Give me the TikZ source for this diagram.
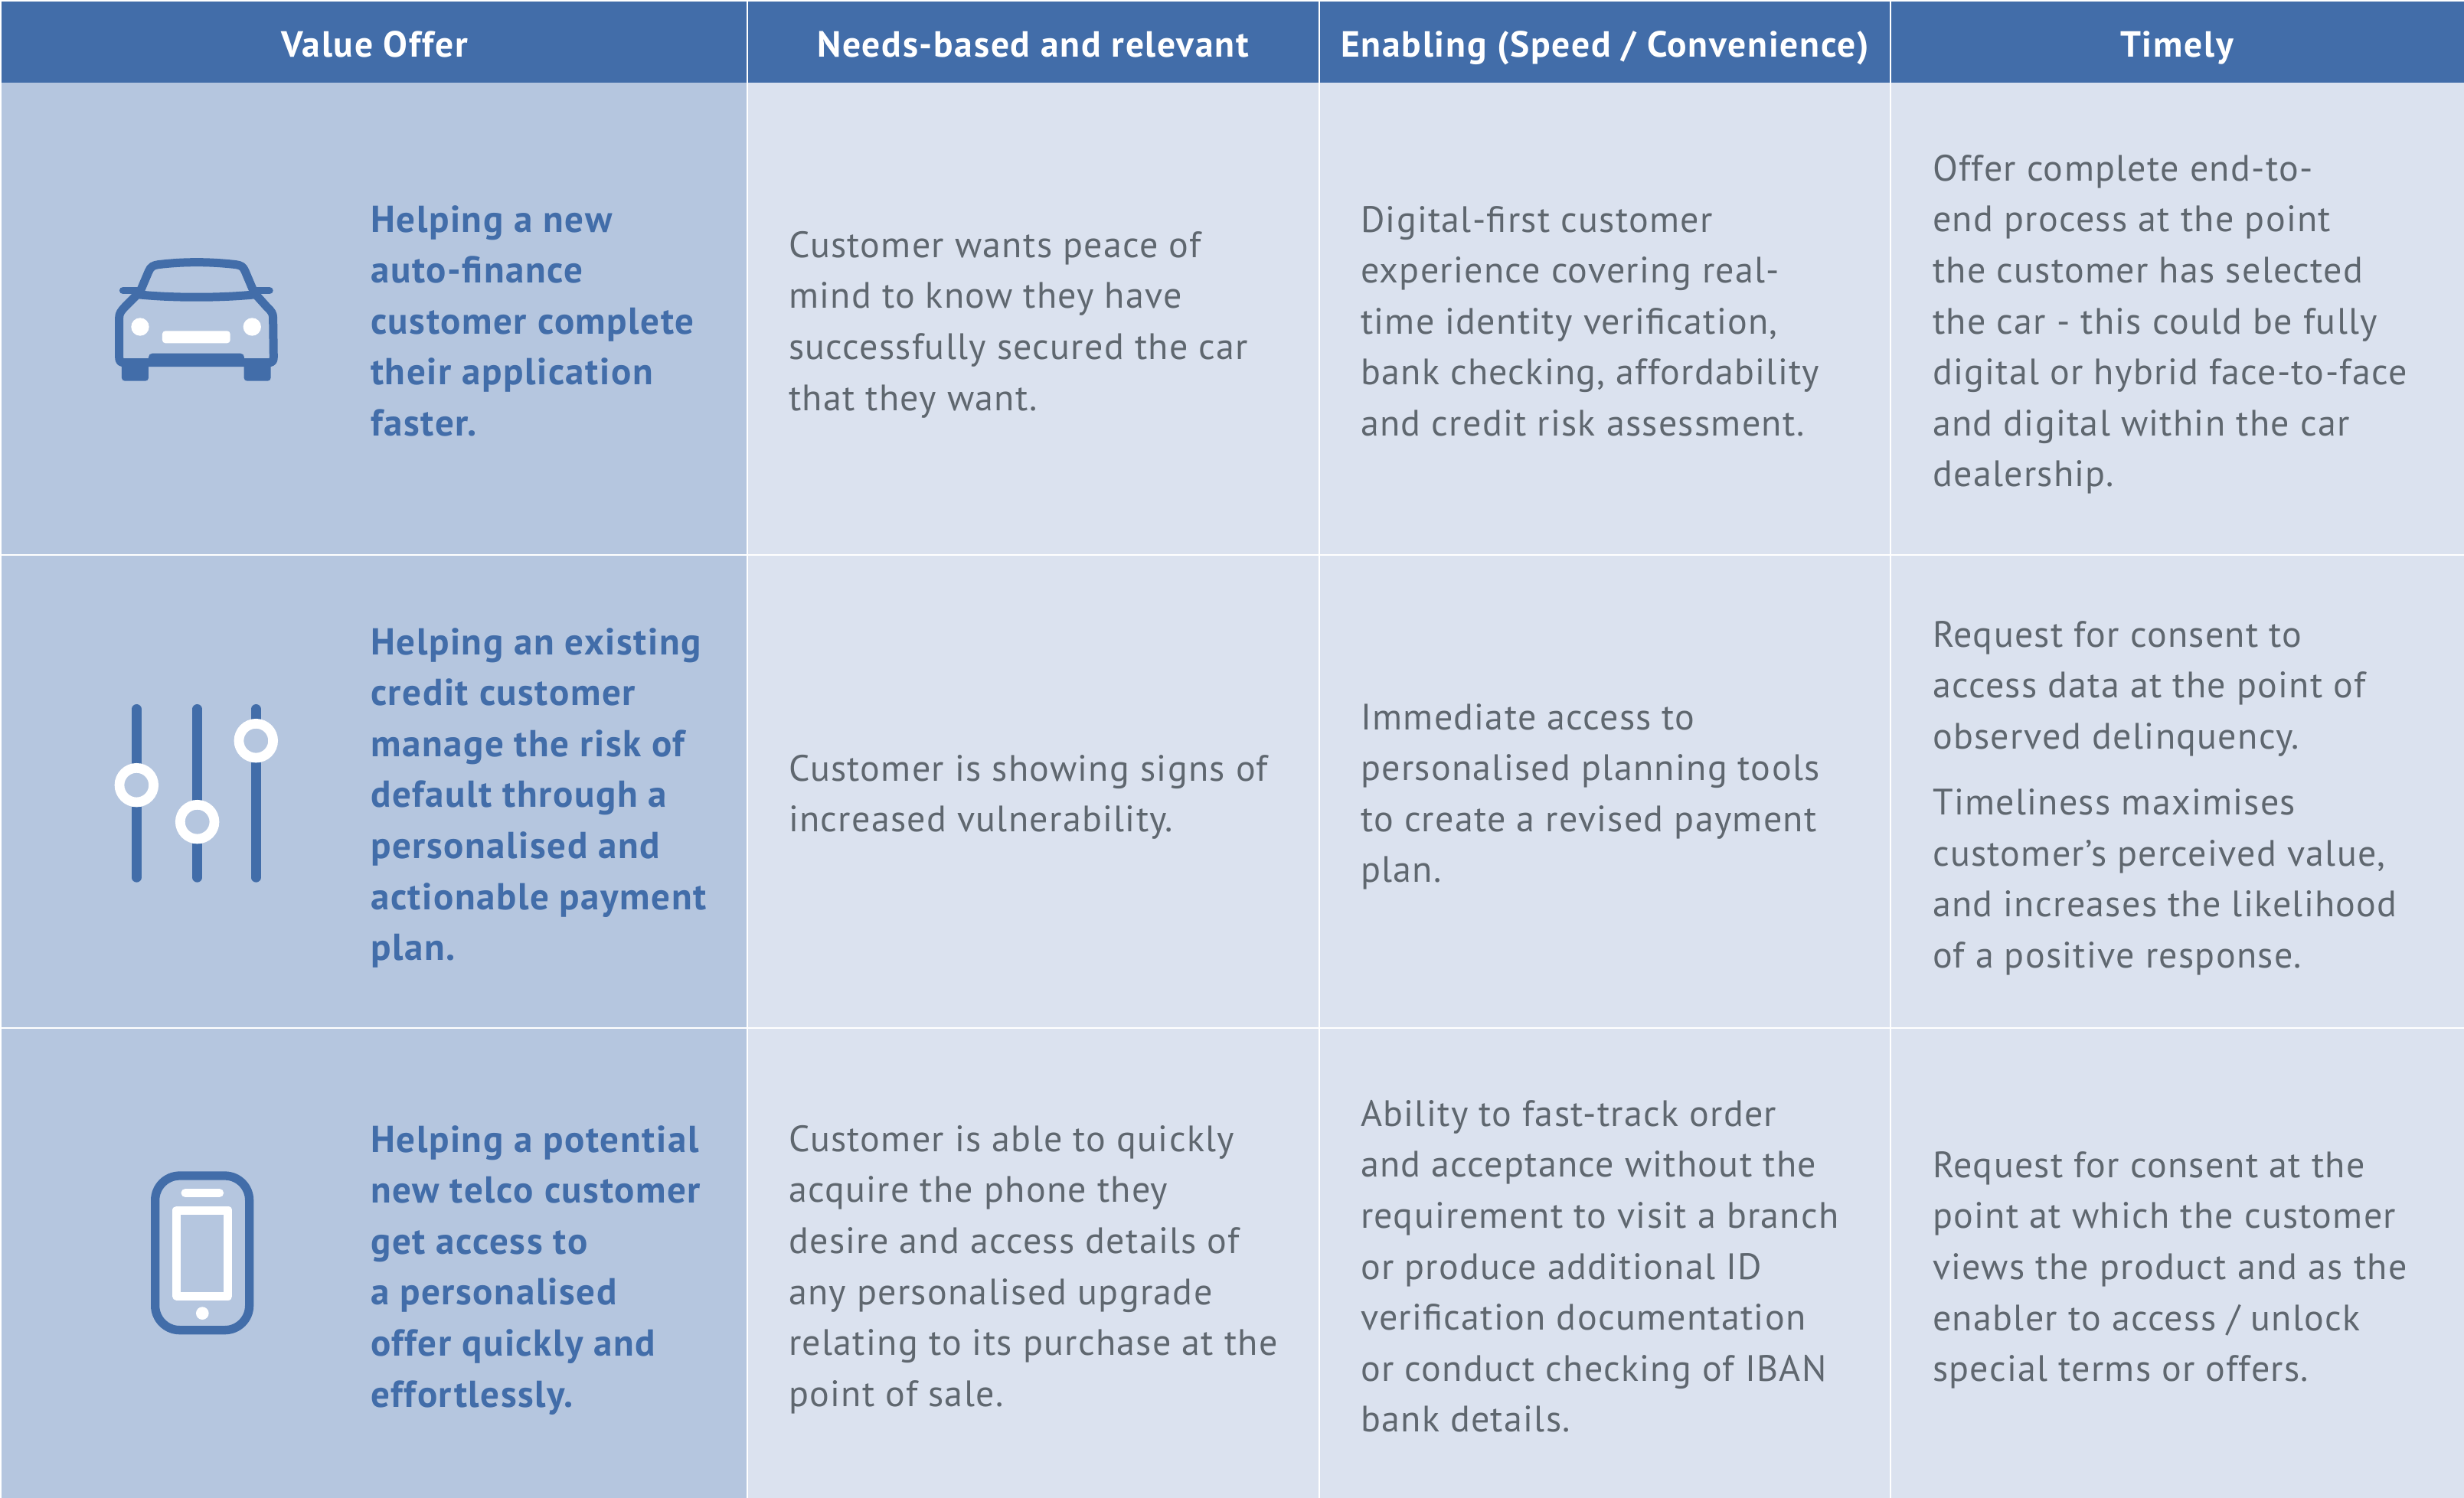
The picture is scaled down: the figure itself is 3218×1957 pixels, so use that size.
\documentclass[tikz,border=0pt]{standalone}
\usepackage{fontspec}
\setmainfont[LetterSpace=2.7]{PT Sans}
\newfontfamily\offerfont[LetterSpace=3.2]{PT Sans}
\newfontfamily\headfont[LetterSpace=3.7]{PT Sans}
\definecolor{hdr}{HTML}{426DA9}
\definecolor{bgA}{HTML}{B5C6DF}
\definecolor{bgB}{HTML}{DBE2EF}
\definecolor{txt}{HTML}{5F676F}
\tikzset{
  x=1pt,y=-1pt,
  bodytext/.style={anchor=north west,align=left,text=txt,inner sep=0pt,font=\fontsize{48}{66.6}\selectfont,execute at begin node=\strut},
  offertext/.style={anchor=north west,align=left,text=hdr,inner sep=0pt,font=\fontsize{49}{66.6}\selectfont\offerfont\bfseries,execute at begin node=\strut},
  headtext/.style={anchor=base,text=white,inner sep=0pt,font=\fontsize{47.5}{56}\headfont\bfseries},
  rule/.style={white,line width=2.5pt},
  ico/.style={hdr,line cap=round,line join=round},
}
\begin{document}
\begin{tikzpicture}
\useasboundingbox (0,0) rectangle (3218,1957);
\fill[white] (0,0) rectangle (3218,1957);
\fill[hdr] (2,2) rectangle (3218,108);
\fill[bgA] (2,108) rectangle (976,1957);
\fill[bgB] (976,108) rectangle (3218,1957);
\draw[rule] (976,0) -- (976,1957);
\draw[rule] (1723,0) -- (1723,1957);
\draw[rule] (2469,0) -- (2469,1957);
\draw[rule] (0,725) -- (3218,725);
\draw[rule] (0,1343) -- (3218,1343);
% headers
\node[headtext] (h1) at (489,74) {Value Offer};
\node[headtext] (h2) at (1349,74) {Needs-based and relevant};
\node[headtext] (h3) at (2096,74) {Enabling (Speed / Convenience)};
\node[headtext] (h4) at (2843,74) {Timely};
% row 1
\node[offertext] (a1) at (484,268) {Helping a new\\auto-finance\\customer complete\\their application\\faster.};
\node[bodytext] (b1) at (1030,302) {Customer wants peace of\\mind to know they have\\successfully secured the car\\that they want.};
\node[bodytext] (c1) at (1777,269) {Digital-first customer\\experience covering real-\\time identity verification,\\bank checking, affordability\\and credit risk assessment.};
\node[bodytext] (d1) at (2524,202) {Offer complete end-to-\\end process at the point\\the customer has selected\\the car - this could be fully\\digital or hybrid face-to-face\\and digital within the car\\dealership.};
% row 2
\node[offertext] (a2) at (484,820) {Helping an existing\\credit customer\\manage the risk of\\default through a\\personalised and\\actionable payment\\plan.};
\node[bodytext] (b2) at (1030,986) {Customer is showing signs of\\increased vulnerability.};
\node[bodytext] (c2) at (1777,919) {Immediate access to\\personalised planning tools\\to create a revised payment\\plan.};
\node[bodytext] (d2) at (2524,811) {Request for consent to\\access data at the point of\\observed delinquency.\\[19.5pt]Timeliness maximises\\customer's perceived value,\\and increases the likelihood\\of a positive response.};
% row 3
\node[offertext] (a3) at (484,1470) {Helping a potential\\new telco customer\\get access to\\a personalised\\offer quickly and\\effortlessly.};
\node[bodytext] (b3) at (1030,1470) {Customer is able to quickly\\acquire the phone they\\desire and access details of\\any personalised upgrade\\relating to its purchase at the\\point of sale.};
\node[bodytext] (c3) at (1777,1437) {Ability to fast-track order\\and acceptance without the\\requirement to visit a branch\\or produce additional ID\\verification documentation\\or conduct checking of IBAN\\bank details.};
\node[bodytext] (d3) at (2524,1504) {Request for consent at the\\point at which the customer\\views the product and as the\\enabler to access / unlock\\special terms or offers.};
% car icon
\begin{scope}[shift={(100,280)},x=0.3333pt,y=-0.3333pt]
\fill[hdr,rounded corners=4pt] (177,585) rectangle (282,653);
\fill[hdr,rounded corners=4pt] (656,585) rectangle (761,653);
\draw[ico,line width=11pt] (240,312) -- (190,362) .. controls (175,378) and (167,388) .. (167,405) -- (167,560) .. controls (167,575) and (172,581) .. (185,581) -- (755,581) .. controls (766,581) and (772,575) .. (772,560) -- (770,405) .. controls (770,388) and (762,378) .. (745,362) -- (700,312);
\fill[hdr,rounded corners=5pt] (282,545) rectangle (657,597);
\draw[ico,line width=11pt] (248,305) -- (282,225) .. controls (290,205) and (300,200) .. (320,197) .. controls (420,185) and (520,185) .. (625,197) .. controls (645,200) and (652,205) .. (660,222) -- (693,300);
\draw[ico,line width=11pt] (248,315) .. controls (380,328) and (560,328) .. (693,315);
\draw[ico,line width=9.5pt] (182,299) -- (240,299);
\draw[ico,line width=9.5pt] (700,299) -- (756,299);
\fill[white] (249,441) circle[radius=35];
\fill[white] (688,441) circle[radius=35];
\fill[white,rounded corners=4pt] (336,457) rectangle (602,505);
\end{scope}
% sliders icon
\begin{scope}[shift={(120,880)},x=0.3333pt,y=-0.3333pt]
\draw[ico,line width=12.7pt] (175,139) -- (175,799);
\draw[ico,line width=12.7pt] (413,139) -- (413,799);
\draw[ico,line width=12.7pt] (643,139) -- (643,799);
\draw[white,fill=bgA,line width=12.7pt] (175,437) circle[radius=67];
\draw[white,fill=bgA,line width=12.7pt] (413,581) circle[radius=67];
\draw[white,fill=bgA,line width=12.7pt] (643,263) circle[radius=67];
\end{scope}
% phone icon
\begin{scope}[shift={(160,1500)},x=0.3333pt,y=-0.3333pt]
\draw[hdr,line width=11.3pt,rounded corners=32pt] (128,108) rectangle (497,713);
\draw[white,line width=11pt,line join=round] (212,243) rectangle (414,580);
\draw[white,line width=11pt,line cap=round] (246,175.5) -- (380,175.5);
\fill[white] (313,647) circle[radius=25];
\end{scope}
\end{tikzpicture}
\end{document}
